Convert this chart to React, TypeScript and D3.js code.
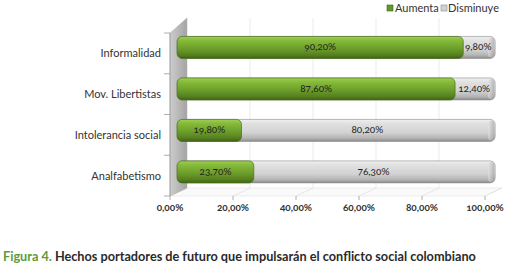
import React from "react";
import * as d3 from "d3";

const categories = ["Informalidad", "Mov. Libertistas", "Intolerancia social", "Analfabetismo"];
const aumenta = [90.2, 87.6, 19.8, 23.7];
const disminuye = [9.8, 12.4, 80.2, 76.3];
const aumentaLabels = ["90,20%", "87,60%", "19,80%", "23,70%"];
const disminuyeLabels = ["9,80%", "12,40%", "80,20%", "76,30%"];
const tickValues = [0, 20, 40, 60, 80, 100];
const tickLabels = ["0,00%", "20,00%", "40,00%", "60,00%", "80,00%", "100,00%"];
const seriesNames = ["Aumenta", "Disminuye"];

const W = 508;
const H = 267;
const FRONT_TOP = 33;
const FRONT_BOTTOM = 196;
const DEPTH_X = 17;
const DY_TOP = -15;
const DY_BOTTOM = -8;
const BAR_T = 0.42;
const BAR_H = 22;

const font = "Lato, 'Open Sans', sans-serif";

export default function App() {
  const x = d3.scaleLinear().domain([0, 100]).range([170, 485]);
  const y = d3.scaleBand<string>().domain(categories).range([FRONT_TOP, FRONT_BOTTOM]).paddingInner(0);
  const dyAt = (yy: number) => DY_TOP + ((DY_BOTTOM - DY_TOP) * (yy - FRONT_TOP)) / (FRONT_BOTTOM - FRONT_TOP);
  const proj = (xx: number, yy: number, t: number): [number, number] => [xx + DEPTH_X * t, yy + dyAt(yy) * t];

  const wallPts = [
    [x(0), FRONT_TOP],
    [x(0), FRONT_BOTTOM],
    proj(x(0), FRONT_BOTTOM, 1),
    proj(x(0), FRONT_TOP, 1),
  ];
  const floorPts = [
    [x(0), FRONT_BOTTOM],
    [x(100), FRONT_BOTTOM],
    proj(x(100), FRONT_BOTTOM, 1),
    proj(x(0), FRONT_BOTTOM, 1),
  ];
  const line = (pts: number[][]) => "M" + pts.map((p) => p.join(",")).join("L") + "Z";

  return (
    <svg width={W} height={H} style={{ position: "absolute", left: 0, top: 0, background: "#fff" }}>
      <defs>
        <linearGradient id="wallG" x1="0" x2="1" y1="0" y2="0">
          <stop offset="0" stopColor="#cccccc" />
          <stop offset="1" stopColor="#a4a4a4" />
        </linearGradient>
        <linearGradient id="greenG" x1="0" x2="0" y1="0" y2="1">
          <stop offset="0" stopColor="#9fcf55" />
          <stop offset="0.18" stopColor="#86bb3a" />
          <stop offset="0.55" stopColor="#6c9f2a" />
          <stop offset="0.85" stopColor="#567f1f" />
          <stop offset="1" stopColor="#3e6214" />
        </linearGradient>
        <linearGradient id="grayG" x1="0" x2="0" y1="0" y2="1">
          <stop offset="0" stopColor="#f0f0f0" />
          <stop offset="0.2" stopColor="#e0e0e0" />
          <stop offset="0.6" stopColor="#d2d2d2" />
          <stop offset="0.85" stopColor="#b4b4b4" />
          <stop offset="1" stopColor="#8c8c8c" />
        </linearGradient>
        <linearGradient id="capG" x1="0" x2="1" y1="0" y2="0">
          <stop offset="0" stopColor="#e6e6e6" />
          <stop offset="1" stopColor="#9a9a9a" />
        </linearGradient>
      </defs>

      {/* floor */}
      <path d={line(floorPts)} fill="#fafafa" stroke="#e2e2e2" strokeWidth={0.6} />
      {tickValues.map((v) => {
        const a: [number, number] = [x(v), FRONT_BOTTOM];
        const b = proj(x(v), FRONT_BOTTOM, 1);
        return <line key={"f" + v} x1={a[0]} y1={a[1]} x2={b[0]} y2={b[1]} stroke="#dcdcdc" strokeWidth={0.7} />;
      })}
      {/* back wall gridlines */}
      {tickValues.filter((v) => v > 0 && v < 100).map((v) => {
        const a = proj(x(v), FRONT_TOP, 1);
        const b = proj(x(v), FRONT_BOTTOM, 1);
        return <line key={"g" + v} x1={a[0]} y1={a[1]} x2={b[0]} y2={b[1]} stroke="#e6e6e6" strokeWidth={0.8} />;
      })}
      {/* left wall */}
      <path d={line(wallPts)} fill="url(#wallG)" stroke="#b0b0b0" strokeWidth={0.5} />

      {/* left axis */}
      <line x1={x(0)} x2={x(0)} y1={FRONT_TOP} y2={FRONT_BOTTOM} stroke="#9a9a9a" strokeWidth={0.8} />
      {[...categories.map((c) => y(c) as number), FRONT_BOTTOM].map((yy, i) => (
        <line key={"lt" + i} x1={x(0) - 6} x2={x(0)} y1={yy} y2={yy} stroke="#9a9a9a" strokeWidth={0.8} />
      ))}
      {/* bottom ticks */}
      {tickValues.map((v) => (
        <line key={"bt" + v} x1={x(v)} x2={x(v)} y1={FRONT_BOTTOM} y2={FRONT_BOTTOM + 4} stroke="#9a9a9a" strokeWidth={0.8} />
      ))}

      {/* bars */}
      {categories.map((c, i) => {
        const yc = (y(c) as number) + y.bandwidth() / 2;
        const [x0, ycp] = proj(x(0), yc, BAR_T);
        const xg = proj(x(aumenta[i]), yc, BAR_T)[0];
        const xe = proj(x(aumenta[i] + disminuye[i]), yc, BAR_T)[0];
        const top = ycp - BAR_H / 2;
        const greenEnd = xg + 2;
        const grayEnd = xe + 3;
        return (
          <g key={c}>
            <rect x={x0} y={top} width={grayEnd - x0} height={BAR_H} rx={5} ry={5} fill="url(#grayG)" stroke="#8a8a8a" strokeWidth={0.6} />
            <rect x={grayEnd - 7} y={top + 1} width={6} height={BAR_H - 2} rx={3} ry={3} fill="url(#capG)" opacity={0.55} />
            <rect x={x0} y={top} width={greenEnd - x0} height={BAR_H} rx={5} ry={5} fill="url(#greenG)" stroke="#4a7020" strokeWidth={0.7} />
            <text x={(x0 + greenEnd) / 2} y={ycp + 3} textAnchor="middle" fontFamily={font} fontSize={10} fill="#222" style={{ fontVariantNumeric: "oldstyle-nums" }}>
              {aumentaLabels[i]}
            </text>
            <text x={(greenEnd + grayEnd) / 2 - 1} y={ycp + 3} textAnchor="middle" fontFamily={font} fontSize={10} fill="#222" style={{ fontVariantNumeric: "oldstyle-nums" }}>
              {disminuyeLabels[i]}
            </text>
          </g>
        );
      })}

      {/* category labels */}
      {categories.map((c) => (
        <text key={"cl" + c} x={161} y={(y(c) as number) + y.bandwidth() / 2 + 4} textAnchor="end" fontFamily={font} fontSize={11} fill="#333">
          {c}
        </text>
      ))}

      {/* x tick labels */}
      {tickValues.map((v, i) => (
        <text key={"xl" + v} x={x(v)} y={211} textAnchor="middle" fontFamily={font} fontSize={10} fontWeight={700} fill="#333" style={{ fontVariantNumeric: "oldstyle-nums" }}>
          {tickLabels[i]}
        </text>
      ))}

      {/* legend */}
      <rect x={387} y={5} width={6} height={6} fill="#5f9a2a" stroke="#3e6214" strokeWidth={0.6} />
      <text x={395} y={12} fontFamily={font} fontSize={11} fill="#333">{seriesNames[0]}</text>
      <rect x={441} y={5} width={6} height={6} fill="#d0d0d0" stroke="#8c8c8c" strokeWidth={0.6} />
      <text x={448} y={12} fontFamily={font} fontSize={11} fill="#333">{seriesNames[1]}</text>

      {/* caption */}
      <text x={3} y={261} fontFamily={font} fontSize={12.7} fontWeight={700}>
        <tspan fill="#5e9a3c">Figura 4.</tspan>
        <tspan fill="#2a2a2a"> Hechos portadores de futuro que impulsarán el conflicto social colombiano</tspan>
      </text>
    </svg>
  );
}
